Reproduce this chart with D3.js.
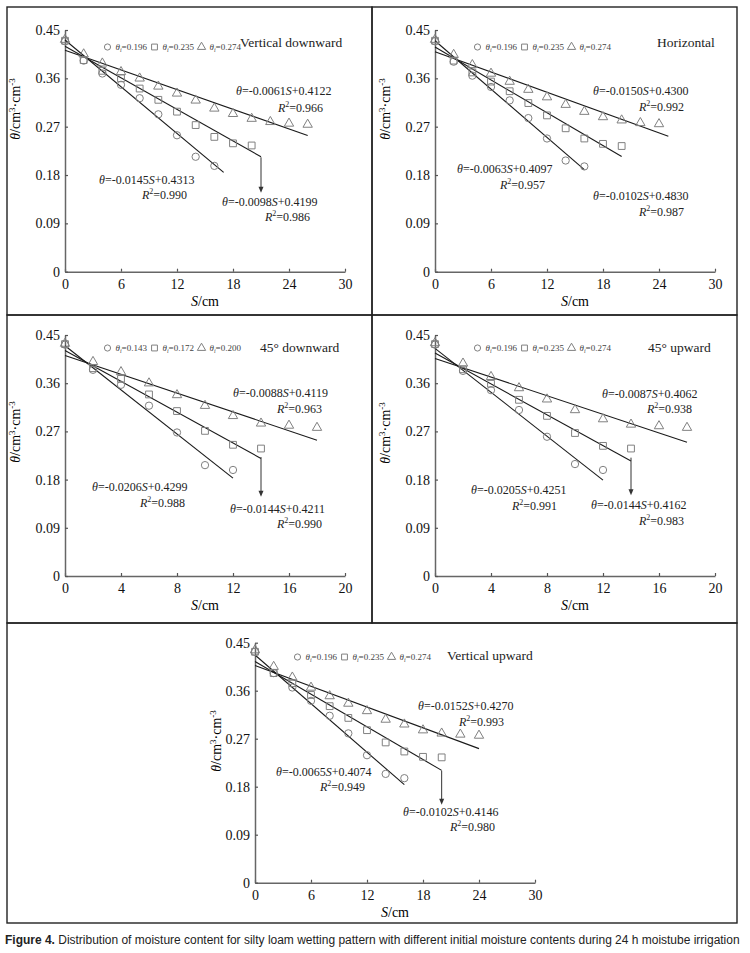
<!DOCTYPE html>
<html>
<head>
<meta charset="utf-8">
<script src="https://cdnjs.cloudflare.com/ajax/libs/d3/7.8.5/d3.min.js"></script>
<style>
    body { margin: 0; background: #fff; }
    svg text { font-family: "Liberation Serif", "Times New Roman", serif; }
</style>
</head>
<body>
<svg id="chart"></svg>
<script>
// distance from the moistube (cm), shared by every series
const sValues = [0, 2, 4, 6, 8, 10, 12, 14, 16, 18, 20, 22, 24, 26];

// vertical downward
const vdCircle = [0.429, 0.393, 0.369, 0.348, 0.323, 0.293, 0.254, 0.214, 0.197];
const vdSquare = [0.430, 0.394, 0.374, 0.360, 0.341, 0.320, 0.298, 0.273, 0.251, 0.239, 0.235];
const vdTriangle = [0.432, 0.405, 0.388, 0.372, 0.360, 0.345, 0.332, 0.319, 0.304, 0.294, 0.285, 0.279, 0.276, 0.274];

// horizontal
const hzCircle = [0.429, 0.391, 0.365, 0.344, 0.319, 0.286, 0.248, 0.207, 0.196];
const hzSquare = [0.430, 0.393, 0.371, 0.354, 0.336, 0.314, 0.291, 0.267, 0.248, 0.238, 0.234];
const hzTriangle = [0.432, 0.404, 0.385, 0.369, 0.354, 0.339, 0.325, 0.311, 0.298, 0.288, 0.282, 0.277, 0.275];

// 45 degree downward
const d45Circle = [0.432, 0.385, 0.357, 0.318, 0.268, 0.207, 0.198];
const d45Square = [0.433, 0.388, 0.368, 0.339, 0.308, 0.271, 0.245, 0.238];
const d45Triangle = [0.434, 0.400, 0.381, 0.360, 0.338, 0.318, 0.299, 0.285, 0.281, 0.277];

// 45 degree upward
const u45Circle = [0.432, 0.383, 0.347, 0.310, 0.260, 0.209, 0.198];
const u45Square = [0.433, 0.386, 0.359, 0.329, 0.299, 0.267, 0.243, 0.238];
const u45Triangle = [0.435, 0.397, 0.372, 0.351, 0.330, 0.310, 0.293, 0.283, 0.280, 0.277];

// vertical upward
const vuCircle = [0.433, 0.393, 0.366, 0.341, 0.313, 0.280, 0.239, 0.204, 0.196];
const vuSquare = [0.433, 0.393, 0.374, 0.352, 0.331, 0.309, 0.286, 0.263, 0.246, 0.236, 0.235];
const vuTriangle = [0.436, 0.405, 0.385, 0.366, 0.350, 0.336, 0.322, 0.306, 0.297, 0.286, 0.280, 0.278, 0.276];

// fitted lines: [theta at S=0, S at end, theta at end]  (circle, square, triangle)
const vdFit = [[0.4313, 17, 0.1848], [0.4199, 21, 0.2141], [0.4122, 26, 0.2536]];
const hzFit = [[0.4300, 16, 0.1900], [0.4183, 20, 0.2143], [0.4097, 25, 0.2522]];
const d45Fit = [[0.4299, 12, 0.1827], [0.4211, 14, 0.2195], [0.4119, 18, 0.2535]];
const u45Fit = [[0.4251, 12, 0.1790], [0.4162, 14, 0.2146], [0.4062, 18, 0.2496]];
const vuFit = [[0.4270, 16, 0.1838], [0.4146, 20, 0.2106], [0.4074, 24, 0.2514]];

// equation labels and R2 as printed
const vdEq = ["-0.0061S+0.4122", "-0.0145S+0.4313", "-0.0098S+0.4199"];
const vdR2 = ["0.966", "0.990", "0.986"];
const hzEq = ["-0.0150S+0.4300", "-0.0063S+0.4097", "-0.0102S+0.4830"];
const hzR2 = ["0.992", "0.957", "0.987"];
const d45Eq = ["-0.0088S+0.4119", "-0.0206S+0.4299", "-0.0144S+0.4211"];
const d45R2 = ["0.963", "0.988", "0.990"];
const u45Eq = ["-0.0087S+0.4062", "-0.0205S+0.4251", "-0.0144S+0.4162"];
const u45R2 = ["0.938", "0.991", "0.983"];
const vuEq = ["-0.0152S+0.4270", "-0.0065S+0.4074", "-0.0102S+0.4146"];
const vuR2 = ["0.993", "0.949", "0.980"];

// arrow: [S, theta from, theta to]
const vdArrow = [21, 0.213, 0.147];
const d45Arrow = [14, 0.222, 0.148];
const u45Arrow = [14, 0.221, 0.151];
const vuArrow = [20, 0.210, 0.146];

const initLegendA = ["0.196", "0.235", "0.274"];
const initLegendB = ["0.143", "0.172", "0.200"];

const yTicks = [0, 0.09, 0.18, 0.27, 0.36, 0.45];
const xTicks30 = [0, 6, 12, 18, 24, 30];
const xTicks20 = [0, 4, 8, 12, 16, 20];

const panels = [
    { title: "Vertical downward", circle: vdCircle, square: vdSquare, triangle: vdTriangle, fit: vdFit,
      eq: vdEq, r2: vdR2, arrow: vdArrow, legend: initLegendA, xMax: 30, xTicks: xTicks30,
      left: 65, right: 345, top: 30, bottom: 271.7, titleX: 240, titleY: 47, legendY: 47, yLabX: 15, yLabY: 109,
      eqPos: [[236, 95, 278, 112], [99, 184, 142, 199], [222, 206, 265, 221]] },
    { title: "Horizontal", circle: hzCircle, square: hzSquare, triangle: hzTriangle, fit: hzFit,
      eq: hzEq, r2: hzR2, arrow: null, legend: initLegendA, xMax: 30, xTicks: xTicks30,
      left: 435, right: 715, top: 30, bottom: 271.7, titleX: 657, titleY: 47, legendY: 47, yLabX: 385, yLabY: 109,
      eqPos: [[593, 95, 639, 111], [457, 173, 500, 189], [593, 200, 639, 216]] },
    { title: "45\u00b0 downward", circle: d45Circle, square: d45Square, triangle: d45Triangle, fit: d45Fit,
      eq: d45Eq, r2: d45R2, arrow: d45Arrow, legend: initLegendB, xMax: 20, xTicks: xTicks20,
      left: 65, right: 345, top: 335, bottom: 576, titleX: 260, titleY: 352, legendY: 348, yLabX: 15, yLabY: 432,
      eqPos: [[233, 397, 277, 413], [92, 491, 140, 507], [230, 513, 277, 528]] },
    { title: "45\u00b0 upward", circle: u45Circle, square: u45Square, triangle: u45Triangle, fit: u45Fit,
      eq: u45Eq, r2: u45R2, arrow: u45Arrow, legend: initLegendA, xMax: 20, xTicks: xTicks20,
      left: 435, right: 715, top: 335, bottom: 576, titleX: 648, titleY: 352, legendY: 348, yLabX: 385, yLabY: 433,
      eqPos: [[602, 398, 647, 413], [471, 494, 512, 510], [591, 509, 639, 525]] },
    { title: "Vertical upward", circle: vuCircle, square: vuSquare, triangle: vuTriangle, fit: vuFit,
      eq: vuEq, r2: vuR2, arrow: vuArrow, legend: initLegendA, xMax: 30, xTicks: xTicks30,
      left: 255, right: 535, top: 642.7, bottom: 882.7, titleX: 447, titleY: 660, legendY: 657, yLabX: 216, yLabY: 741,
      eqPos: [[418, 710, 459, 726], [276, 776, 320, 791], [403, 816, 450, 831]] }
];

const width = 750;
const height = 953;
const svg = d3.select("#chart").attr("width", width).attr("height", height);

// panel frames
const frames = [[7, 7, 365, 308], [372, 7, 365, 308], [7, 315, 365, 308], [372, 315, 365, 308], [7, 623, 730, 300]];
svg.selectAll("rect.frame")
    .data(frames)
    .enter()
    .append("rect")
    .attr("class", "frame")
    .attr("x", d => d[0]).attr("y", d => d[1])
    .attr("width", d => d[2]).attr("height", d => d[3])
    .attr("fill", "none").attr("stroke", "#222").attr("stroke-width", 1.4);

panels.forEach(drawPanel);

function drawPanel(p) {
    const x = d3.scaleLinear().domain([0, p.xMax]).range([p.left, p.right]);
    const y = d3.scaleLinear().domain([0, 0.45]).range([p.bottom, p.top]);
    const g = svg.append("g");

    const xAxis = d3.axisBottom(x).tickValues(p.xTicks).tickSizeInner(-3).tickSizeOuter(0).tickPadding(7);
    const yAxis = d3.axisLeft(y).tickValues(yTicks).tickSizeInner(-3).tickSizeOuter(0).tickPadding(5)
                    .tickFormat(d => d === 0 ? "0" : d3.format(".2f")(d));

    [g.append("g").attr("transform", `translate(0,${p.bottom})`).call(xAxis),
     g.append("g").attr("transform", `translate(${p.left},0)`).call(yAxis)].forEach(a => {
        a.attr("font-family", null).attr("font-size", 14);
        a.select(".domain").attr("stroke", "#666").attr("stroke-width", 1.5);
        a.selectAll(".tick line").attr("stroke", "#555").attr("stroke-width", 1.2);
        a.selectAll(".tick text").attr("fill", "#111");
    });

    // axis titles
    const xt = g.append("text")
        .attr("x", (p.left + p.right) / 2)
        .attr("y", p.bottom + 34)
        .attr("text-anchor", "middle")
        .attr("font-size", 14);
    xt.append("tspan").attr("font-style", "italic").text("S");
    xt.append("tspan").text("/cm");

    const yt = g.append("text")
        .attr("transform", `translate(${p.yLabX},${p.yLabY}) rotate(-90)`)
        .attr("text-anchor", "middle")
        .attr("dy", "0.35em")
        .attr("font-size", 14);
    yt.append("tspan").attr("font-style", "italic").text("\u03b8");
    yt.append("tspan").text("/cm");
    yt.append("tspan").attr("font-size", 9).attr("dy", -5).text("3");
    yt.append("tspan").attr("dy", 5).text("\u00b7cm");
    yt.append("tspan").attr("font-size", 9).attr("dy", -5).text("-3");

    // fitted lines
    g.selectAll("line.fit")
        .data(p.fit)
        .enter()
        .append("line")
        .attr("x1", x(0))
        .attr("y1", d => y(d[0]))
        .attr("x2", d => x(d[1]))
        .attr("y2", d => y(d[2]))
        .attr("stroke", "#1a1a1a")
        .attr("stroke-width", 1.1);

    // measured points
    const kinds = [[p.circle, d3.symbolCircle, 42], [p.square, d3.symbolSquare, 46], [p.triangle, d3.symbolTriangle, 38]];
    kinds.forEach(k => {
        g.append("g")
            .selectAll("path")
            .data(k[0])
            .enter()
            .append("path")
            .attr("d", d3.symbol().type(k[1]).size(k[2]))
            .attr("transform", (d, i) => `translate(${x(sValues[i])},${y(d)})`)
            .attr("fill", "none")
            .attr("stroke", "#808080")
            .attr("stroke-width", 1);
    });

    // legend
    const legendOffsets = [42.5, 89.5, 136.5];
    const legendSyms = [[d3.symbolCircle, 30], [d3.symbolSquare, 34], [d3.symbolTriangle, 30]];
    p.legend.forEach((v, i) => {
        const lx = p.left + legendOffsets[i];
        g.append("path")
            .attr("d", d3.symbol().type(legendSyms[i][0]).size(legendSyms[i][1]))
            .attr("transform", `translate(${lx},${p.legendY})`)
            .attr("fill", "none").attr("stroke", "#808080");
        const lt = g.append("text")
            .attr("x", lx + 8)
            .attr("y", p.legendY + 3)
            .attr("font-size", 9)
            .attr("fill", "#444");
        lt.append("tspan").attr("font-style", "italic").text("\u03b8");
        lt.append("tspan").attr("font-style", "italic").attr("font-size", 6).attr("dy", 2).text("i");
        lt.append("tspan").attr("dy", -2).text("=" + v);
    });

    g.append("text")
        .attr("x", p.titleX)
        .attr("y", p.titleY)
        .attr("font-size", 13.5)
        .attr("fill", "#222")
        .text(p.title);

    // equations
    p.eq.forEach((e, i) => {
        const pos = p.eqPos[i];
        const parts = e.split("S");
        const t = g.append("text").attr("x", pos[0]).attr("y", pos[1]).attr("font-size", 12).attr("fill", "#222");
        t.append("tspan").attr("font-style", "italic").text("\u03b8");
        t.append("tspan").text("=" + parts[0]);
        t.append("tspan").attr("font-style", "italic").text("S");
        t.append("tspan").text(parts[1]);

        const r = g.append("text").attr("x", pos[2]).attr("y", pos[3]).attr("font-size", 12).attr("fill", "#222");
        r.append("tspan").attr("font-style", "italic").text("R");
        r.append("tspan").attr("font-size", 8).attr("dy", -5).text("2");
        r.append("tspan").attr("dy", 5).text("=" + p.r2[i]);
    });

    // arrow from square line end to its label
    if (p.arrow) {
        const ax = x(p.arrow[0]);
        const y1 = y(p.arrow[1]);
        const y2 = y(p.arrow[2]);
        g.append("line")
            .attr("x1", ax).attr("y1", y1).attr("x2", ax).attr("y2", y2 - 5)
            .attr("stroke", "#333").attr("stroke-width", 1);
        g.append("path")
            .attr("d", `M${ax - 2.5},${y2 - 6}L${ax + 2.5},${y2 - 6}L${ax},${y2}Z`)
            .attr("fill", "#333");
    }
}

// caption
const cap = svg.append("text")
    .attr("x", 5)
    .attr("y", 944)
    .attr("font-size", 12)
    .style("font-family", "'Liberation Sans', Arial, sans-serif")
    .attr("fill", "#222");
cap.append("tspan").attr("font-weight", "bold").text("Figure 4.");
cap.append("tspan").text(" Distribution of moisture content for silty loam wetting pattern with different initial moisture contents during 24 h moistube irrigation");
const capW = cap.node().getComputedTextLength();
cap.attr("transform", `translate(5,0) scale(${735 / capW},1) translate(-5,0)`);
</script>
</body>
</html>
